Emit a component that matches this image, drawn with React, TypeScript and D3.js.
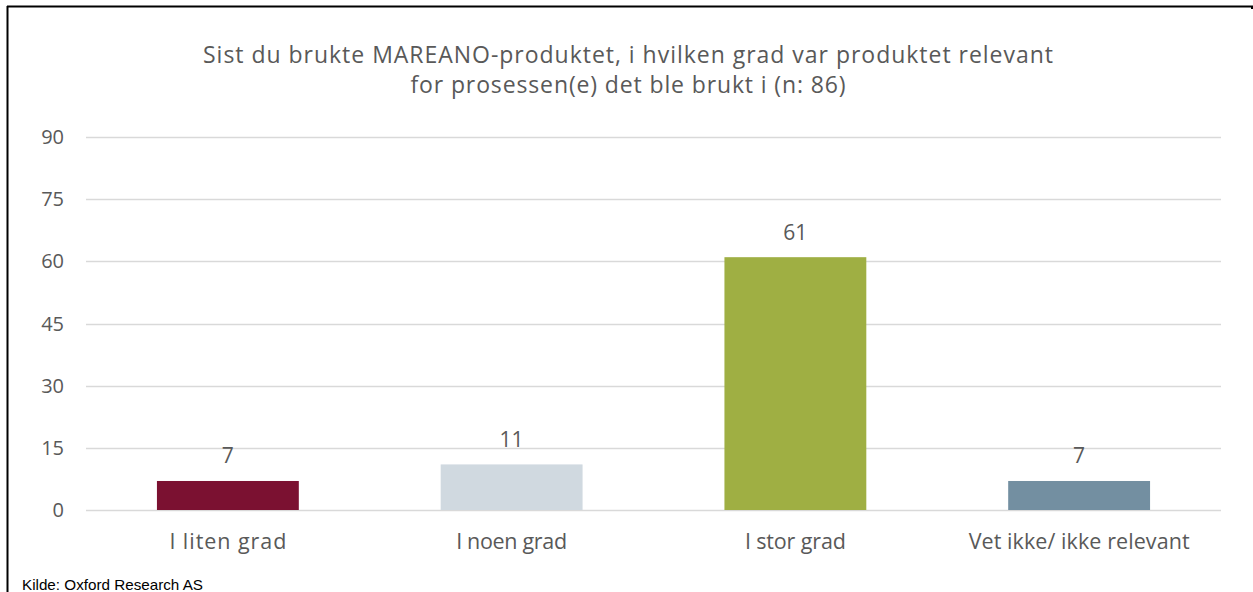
import React from "react";
import * as d3 from "d3";

const categories = ["I liten grad", "I noen grad", "I stor grad", "Vet ikke/ ikke relevant"];
const values = [7, 11, 61, 7];
const barColors = ["#7B1131", "#D0D9E0", "#9FAF43", "#738FA1"];
const yTicks = [0, 15, 30, 45, 60, 75, 90];
const titleLines = [
  "Sist du brukte MAREANO-produktet, i hvilken grad var produktet relevant",
  "for prosessen(e) det ble brukt i (n: 86)",
];
const source = "Kilde: Oxford Research AS";

const titleWidths = [850, 435];
const catWidths = [117, 111, 101, 221];

const W = 1253;
const H = 592;
const font = "'Open Sans', sans-serif";
const textColor = "#595959";

export default function App() {
  const x = d3.scaleBand<string>().domain(categories).range([86, 1221]).paddingInner(0).paddingOuter(0);
  const y = d3.scaleLinear().domain([0, 90]).range([510, 137]);
  const bw = x.bandwidth() * 0.5;

  return (
    <div style={{ position: "absolute", left: 0, top: 0 }}>
      <svg width={W} height={H} style={{ display: "block", background: "#fff" }}>
        <line x1={7.5} y1={6} x2={7.5} y2={H} stroke="#000" strokeWidth={2} />
        <line x1={7} y1={6.5} x2={1253} y2={6.5} stroke="#000" strokeWidth={2} />
        <line x1={1252} y1={6} x2={1252} y2={9} stroke="#000" strokeWidth={2} />
        {titleLines.map((t, i) => (
          <text key={i} x={628} y={63 + i * 30} textAnchor="middle" fontFamily={font} fontSize={23} fill={textColor}
            textLength={titleWidths[i]} lengthAdjust="spacing">
            {t}
          </text>
        ))}
        {yTicks.map((t) => (
          <g key={t}>
            <line x1={86} x2={1221} y1={Math.round(y(t)) + 0.5} y2={Math.round(y(t)) + 0.5} stroke="#D9D9D9" strokeWidth={1.3} />
            <text x={64} y={y(t) + 7} textAnchor="end" fontFamily={font} fontSize={20} fill={textColor}>
              {t}
            </text>
          </g>
        ))}
        {categories.map((c, i) => {
          const cx = (x(c) as number) + x.bandwidth() / 2;
          return (
            <g key={c}>
              <rect x={cx - bw / 2} y={y(values[i])} width={bw} height={y(0) - y(values[i])} fill={barColors[i]} />
              <text x={cx} y={y(values[i]) - 17.5} textAnchor="middle" fontFamily={font} fontSize={21} fill={textColor}>
                {values[i]}
              </text>
              <text x={cx} y={549} textAnchor="middle" fontFamily={font} fontSize={21.5} fill={textColor}
                textLength={catWidths[i]} lengthAdjust="spacing">
                {c}
              </text>
            </g>
          );
        })}
        <text x={22} y={590} fontFamily="'Liberation Sans Narrow', 'Liberation Sans', sans-serif" fontSize={15} fill="#000" textLength={181} lengthAdjust="spacingAndGlyphs">
          {source}
        </text>
      </svg>
    </div>
  );
}
